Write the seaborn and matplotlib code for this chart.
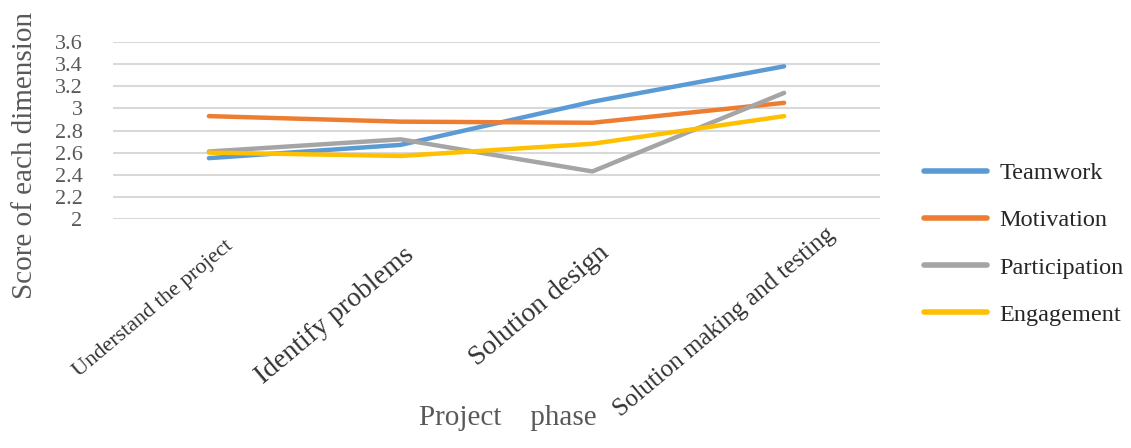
import pandas as pd
import matplotlib
matplotlib.use('Agg')
import matplotlib.pyplot as plt
import matplotlib.transforms as mtransforms
import seaborn as sns

# Values
phases = ['Understand the project', 'Identify problems', 'Solution design', 'Solution making and testing']
teamwork = [2.55, 2.67, 3.06, 3.38]
motivation = [2.93, 2.88, 2.87, 3.05]
participation = [2.61, 2.72, 2.43, 3.14]
engagement = [2.60, 2.57, 2.68, 2.93]
series_names = ['Teamwork', 'Motivation', 'Participation', 'Engagement']
y_ticks = [2, 2.2, 2.4, 2.6, 2.8, 3, 3.2, 3.4, 3.6]
y_tick_labels = ['2', '2.2', '2.4', '2.6', '2.8', '3', '3.2', '3.4', '3.6']

rows = []
for name, vals in zip(series_names, [teamwork, motivation, participation, engagement]):
    for i, v in enumerate(vals):
        rows.append({'pos': i, 'Phase': phases[i], 'Score': v, 'Series': name})
df = pd.DataFrame(rows)

sns.set_theme(style='white')
plt.rcParams['font.family'] = ['Liberation Serif', 'DejaVu Serif']

colors = ['#5B9BD5', '#ED7D31', '#A5A5A5', '#FFC000']
text_gray = '#595959'

fig = plt.figure(figsize=(11.31, 4.48), dpi=100)
ax = fig.add_axes([113 / 1131, 1 - 219 / 448, (880 - 113) / 1131, (219 - 42) / 448])

sns.lineplot(data=df, x='pos', y='Score', hue='Series', hue_order=series_names,
             palette=colors, linewidth=3.2, ax=ax, legend=True, sort=False)
for line in ax.get_lines():
    line.set_solid_capstyle('round')

ax.set_xlim(-0.5, 3.5)
ax.set_ylim(2, 3.6)
ax.set_yticks(y_ticks)
ax.set_yticklabels(y_tick_labels, fontsize=16, color=text_gray)
ax.yaxis.grid(True, color='#D9D9D9', linewidth=1.5)
ax.set_axisbelow(True)
for s in ax.spines.values():
    s.set_visible(False)
ax.tick_params(axis='y', length=0, pad=22)
ax.tick_params(axis='x', length=0, pad=8)

ax.set_xticks(range(len(phases)))
ax.set_xticklabels(phases, rotation=40, ha='right', va='center', rotation_mode='anchor', color='#333333')
label_sizes = [16, 20, 20, 18]
label_offsets = [(22, -14), (10, -22), (14, -20), (48, -2)]
for lab, fs, (dx, dy) in zip(ax.get_xticklabels(), label_sizes, label_offsets):
    lab.set_fontsize(fs)
    lab.set_transform(lab.get_transform() + mtransforms.ScaledTranslation(dx / 100, dy / 100, fig.dpi_scale_trans))

ax.set_xlabel('')
ax.set_ylabel('')
fig.text(25 / 1131, 1 - 155 / 448, 'Score of each dimension', rotation=90, fontsize=21,
         color=text_gray, ha='center', va='center')
fig.text(508 / 1131, 1 - 418 / 448, 'Project    phase', fontsize=21,
         color=text_gray, ha='center', va='center')

handles, labels = ax.get_legend_handles_labels()
ax.get_legend().remove()
leg = fig.legend(handles, labels, loc='center left', bbox_to_anchor=(912 / 1131, 1 - 244 / 448),
                 frameon=False, fontsize=17.5, handlelength=2.6, handletextpad=0.5,
                 labelspacing=1.04, borderpad=0)
for h in leg.get_lines():
    h.set_linewidth(4)
for t in leg.get_texts():
    t.set_color('#262626')

fig.savefig('out.png', dpi=100)
